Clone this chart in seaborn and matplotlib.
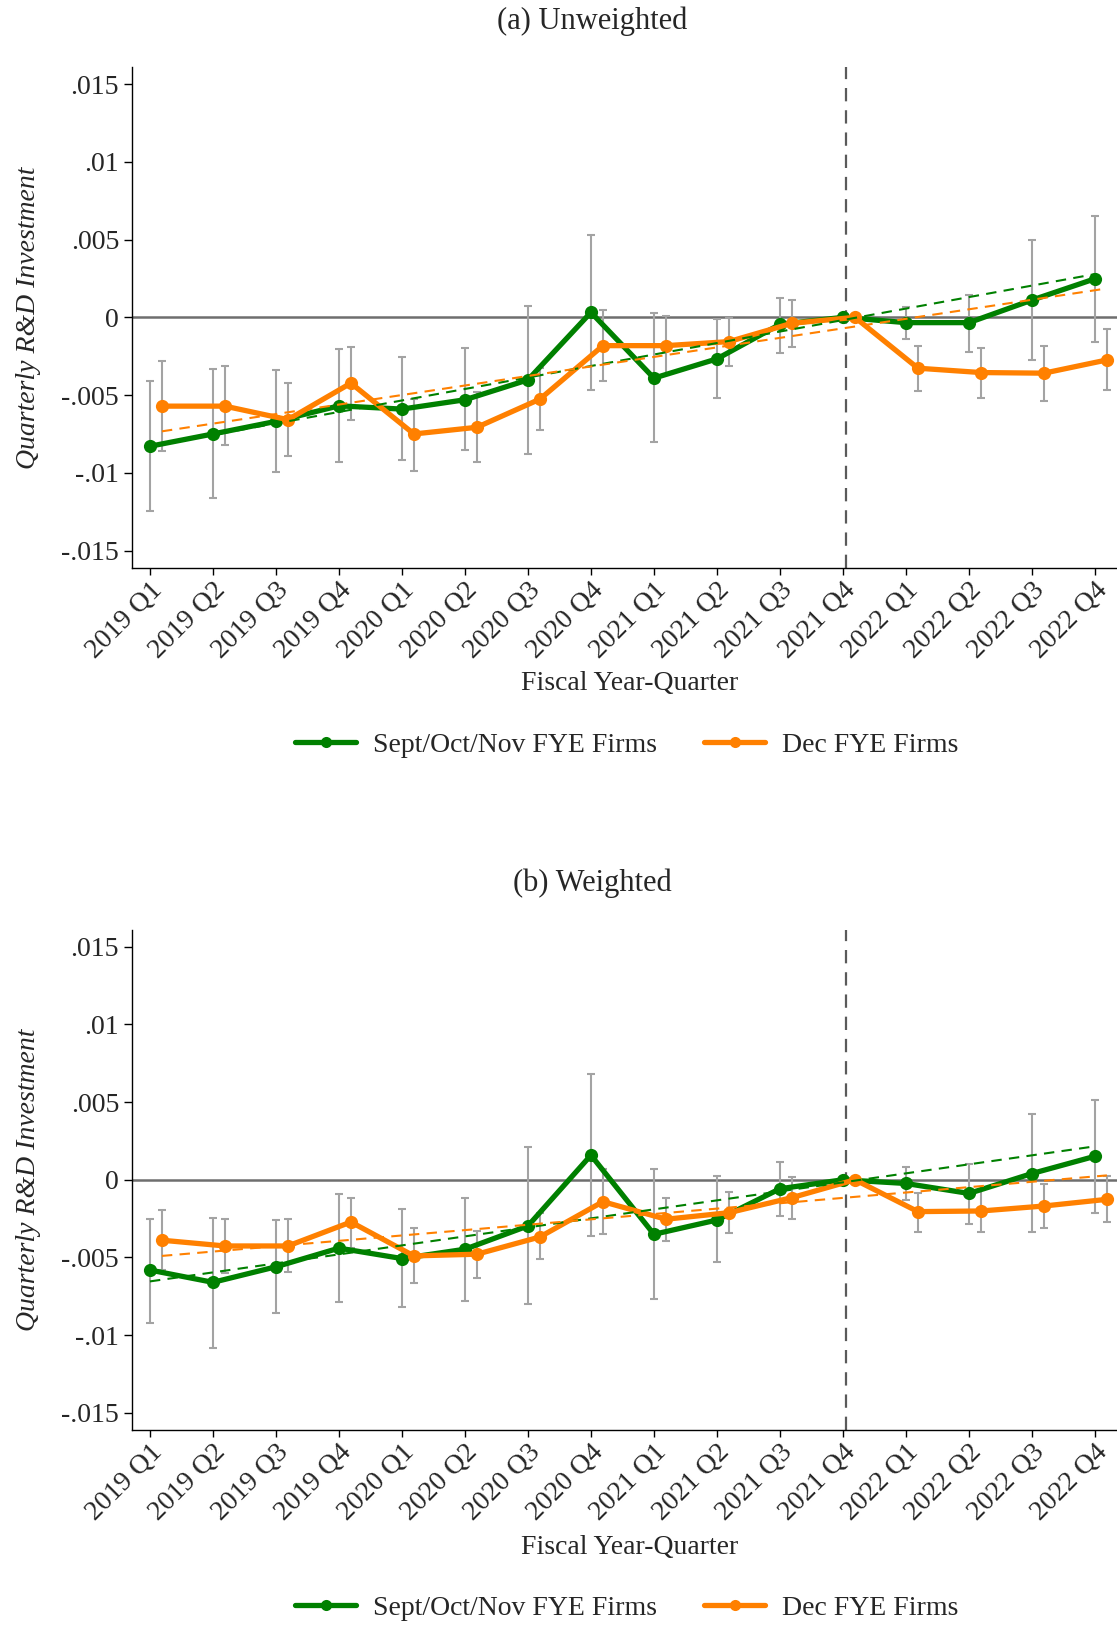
import numpy as np
import pandas as pd
import matplotlib
matplotlib.use("Agg")
import matplotlib.pyplot as plt
from matplotlib.lines import Line2D
import seaborn as sns

sns.set_theme(style="white")
plt.rcParams["font.family"] = ["Liberation Serif", "DejaVu Serif"]

quarters = ["2019 Q1", "2019 Q2", "2019 Q3", "2019 Q4",
            "2020 Q1", "2020 Q2", "2020 Q3", "2020 Q4",
            "2021 Q1", "2021 Q2", "2021 Q3", "2021 Q4",
            "2022 Q1", "2022 Q2", "2022 Q3", "2022 Q4"]
nan = np.nan

# (a) Unweighted  (values in units of 1e-3)
unw_sept = [-8.29, -7.50, -6.69, -5.69, -5.90, -5.30, -4.02, 0.32,
            -3.91, -2.67, -0.45, 0.0, -0.34, -0.34, 1.11, 2.48]
unw_sept_lo = [-12.46, -11.6, -9.92, -9.3, -9.19, -8.55, -8.76, -4.68,
               -8.04, -5.21, -2.31, nan, -1.37, -2.2, -2.74, -1.56]
unw_sept_hi = [-4.1, -3.33, -3.38, -2.05, -2.56, -1.99, 0.74, 5.3,
               0.26, -0.09, 1.22, nan, 0.64, 1.43, 4.95, 6.54]
unw_dec = [-5.71, -5.71, -6.58, -4.23, -7.5, -7.07, -5.26, -1.82,
           -1.82, -1.56, -0.38, 0.0, -3.27, -3.55, -3.59, -2.74]
unw_dec_lo = [-8.61, -8.23, -8.93, -6.58, -9.85, -9.3, -7.27, -4.08,
              -3.7, -3.16, -1.92, nan, -4.72, -5.19, -5.36, -4.7]
unw_dec_hi = [-2.78, -3.16, -4.19, -1.92, -5.26, -4.81, -3.23, 0.45,
              0.08, -0.02, 1.11, nan, -1.84, -1.97, -1.84, -0.77]
unw_sept_trend = [-8.30, 2.78]
unw_dec_trend = [-7.33, 1.86]

# (b) Weighted
w_sept = [-5.81, -6.6, -5.6, -4.4, -5.07, -4.47, -2.97, 1.58,
          -3.51, -2.59, -0.58, 0.0, -0.24, -0.88, 0.4, 1.51]
w_sept_lo = [-9.19, -10.83, -8.59, -7.85, -8.21, -7.82, -7.99, -3.61,
             -7.67, -5.32, -2.33, nan, -1.31, -2.87, -3.33, -2.12]
w_sept_hi = [-2.5, -2.44, -2.59, -0.94, -1.86, -1.2, 2.09, 6.79,
             0.72, 0.23, 1.13, nan, 0.83, 1.04, 4.23, 5.13]
w_dec = [-3.89, -4.26, -4.26, -2.72, -4.9, -4.79, -3.68, -1.41,
         -2.54, -2.12, -1.15, 0.0, -2.05, -2.01, -1.69, -1.26]
w_dec_lo = [-5.79, -6.03, -5.96, -4.42, -6.65, -6.35, -5.11, -3.51,
            -3.97, -3.44, -2.54, nan, -3.36, -3.33, -3.08, -2.72]
w_dec_hi = [-1.97, -2.54, -2.54, -1.15, -3.08, -3.29, -2.16, 0.7,
            -1.15, -0.79, 0.17, nan, -0.83, -0.69, -0.3, 0.21]
w_sept_trend = [-6.54, 2.15]
w_dec_trend = [-4.90, 0.28]

series_names = ["Sept/Oct/Nov FYE Firms", "Dec FYE Firms"]
colors = {"Sept/Oct/Nov FYE Firms": "#008000", "Dec FYE Firms": "#ff8000"}
offsets = {"Sept/Oct/Nov FYE Firms": 0.0, "Dec FYE Firms": 0.19}
yticks = [0.015, 0.01, 0.005, 0, -0.005, -0.01, -0.015]
yticklabels = [".015", ".01", ".005", "0", "-.005", "-.01", "-.015"]
event_x = 11.05

FS = 20
W, H = 1117, 1625
fig = plt.figure(figsize=(W / 100, H / 100), dpi=100)


def panel(rect, title, title_y, xlabel_y, legend_y, sept, slo, shi, dec, dlo, dhi, st, dt):
    ax = fig.add_axes(rect)
    xs = np.arange(len(quarters))
    rows = []
    for name, vals in zip(series_names, [sept, dec]):
        for i, v in enumerate(vals):
            rows.append({"x": xs[i] + offsets[name], "value": v * 1e-3, "series": name})
    df = pd.DataFrame(rows)

    ax.axhline(0, color="#6e6e6e", lw=1.8, zorder=1)
    ax.axvline(event_x, color="#5a5a5a", lw=1.6, ls=(0, (6, 4)), zorder=1)

    for name, vals, lo, hi in [(series_names[0], sept, slo, shi), (series_names[1], dec, dlo, dhi)]:
        v = np.array(vals) * 1e-3
        lo = np.array(lo) * 1e-3
        hi = np.array(hi) * 1e-3
        ax.errorbar(xs + offsets[name], v, yerr=[v - lo, hi - v], fmt="none",
                    ecolor="#a3a3a3", elinewidth=1.5, capsize=3.2, capthick=1.5, zorder=2)

    sns.lineplot(data=df, x="x", y="value", hue="series", palette=colors,
                 hue_order=series_names, marker="o", markersize=9.5,
                 markeredgewidth=0, linewidth=3.8, legend=False, ax=ax, zorder=3)
    for name, tr in [(series_names[0], st), (series_names[1], dt)]:
        ax.plot([xs[0] + offsets[name], xs[-1] + offsets[name]],
                [tr[0] * 1e-3, tr[1] * 1e-3], color=colors[name], lw=1.5,
                ls=(0, (5, 3.5)), zorder=4)

    ax.set_xlim(-0.28, 15.35)
    ax.set_ylim(-0.0161, 0.0161)
    ax.set_yticks(yticks)
    ax.set_yticklabels(yticklabels, fontsize=FS)
    ax.set_xticks(xs)
    ax.set_xticklabels(quarters, rotation=45, ha="right", rotation_mode="anchor", fontsize=FS)
    ax.tick_params(axis="y", which="both", direction="out", length=6, width=1, color="black",
                   left=True, pad=3.5)
    ax.tick_params(axis="x", which="both", direction="out", length=5, width=1, color="black",
                   bottom=True, pad=2)
    for s in ["top", "right"]:
        ax.spines[s].set_visible(False)
    for s in ["left", "bottom"]:
        ax.spines[s].set_color("black")
        ax.spines[s].set_linewidth(1.0)
    ax.set_xlabel("")
    ax.set_ylabel("Quarterly R&D Investment", fontsize=FS, style="italic")
    ax.yaxis.set_label_coords(-0.093, 0.5)

    fig.text(572 / W * 1.036, 1 - title_y / H, title, ha="center", va="center", fontsize=FS + 2)
    fig.text(608 / W * 1.036, 1 - xlabel_y / H, "Fiscal Year-Quarter", ha="center", va="center",
             fontsize=FS)
    handles = [Line2D([], [], color=colors[n], lw=3.8, marker="o", markersize=8, markeredgewidth=0)
               for n in series_names]
    fig.legend(handles, series_names, loc="center", bbox_to_anchor=(605 / W * 1.036, 1 - legend_y / H),
               ncol=2, frameon=False, fontsize=FS, handlelength=2.2, columnspacing=1.7,
               handletextpad=0.6)
    return ax


panel([132.3 / W, 1 - 567.7 / H, 1 - 132.3 / W, 500.7 / H], "(a) Unweighted", 21, 684, 745,
      unw_sept, unw_sept_lo, unw_sept_hi, unw_dec, unw_dec_lo, unw_dec_hi,
      unw_sept_trend, unw_dec_trend)
panel([132.3 / W, 1 - 1430.0 / H, 1 - 132.3 / W, 500.5 / H], "(b) Weighted", 883, 1547, 1608,
      w_sept, w_sept_lo, w_sept_hi, w_dec, w_dec_lo, w_dec_hi,
      w_sept_trend, w_dec_trend)

fig.savefig("out.png", dpi=100)
